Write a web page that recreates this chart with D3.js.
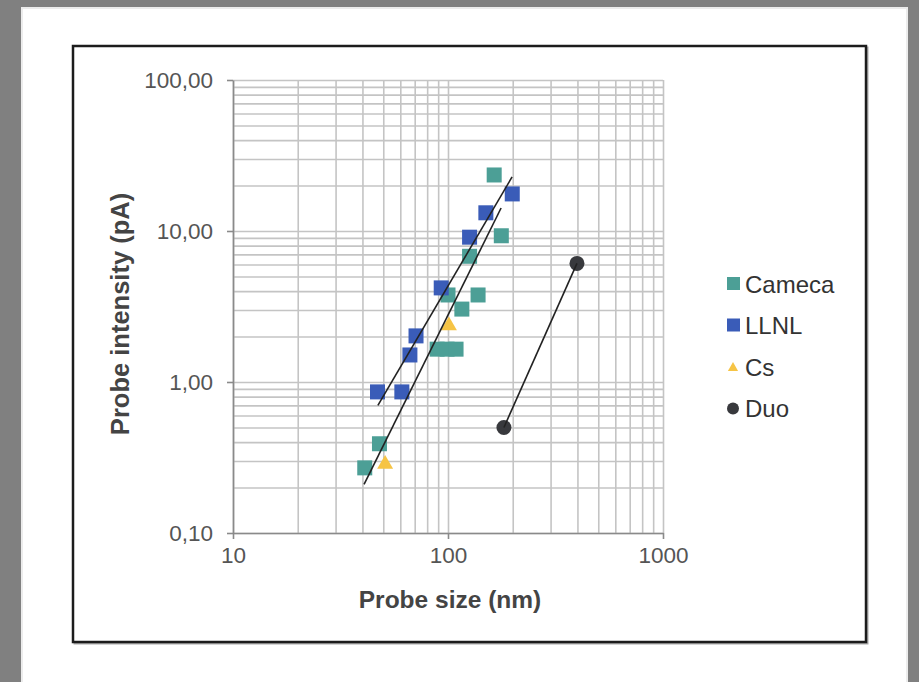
<!DOCTYPE html>
<html>
<head>
<meta charset="utf-8">
<script src="https://cdn.jsdelivr.net/npm/d3@7"></script>
<style>
	body { margin: 0; background: #808080; }
	svg { display: block; }
	text { font-family: "Liberation Sans", Arial, sans-serif; }
</style>
</head>
<body>
<svg id="chart"></svg>
<script>
// DATA

var camecaX = [41, 48, 89, 99, 109, 100, 116, 138, 126, 177, 164];
var camecaY = [0.27, 0.39, 1.65, 1.65, 1.65, 3.77, 3.04, 3.77, 6.8, 9.3, 23.5];

var llnlX = [47, 61, 66.5, 71, 93, 126, 150, 199];
var llnlY = [0.86, 0.86, 1.51, 2.02, 4.2, 9.1, 13.2, 17.6];

var csX = [51, 101];
var csY = [0.29, 2.4];

var duoX = [182, 398];
var duoY = [0.5, 6.1];

// trend line ends (x, y)
var camecaTrend = [[40.7, 0.21], [176.6, 14.2]];
var llnlTrend = [[47.2, 0.70], [198.6, 22.8]];
var duoTrend = [[182, 0.5], [398, 6.1]];

var xTicks = [10, 100, 1000];
var xTickLabels = ["10", "100", "1000"];
var yTicks = [0.1, 1, 10, 100];
var yTickLabels = ["0,10", "1,00", "10,00", "100,00"];

var seriesNames = ["Cameca", "LLNL", "Cs", "Duo"];

// DIMENSIONS

var width = 919,
	height = 682,
	plotLeft = 233,
	plotRight = 663,
	plotTop = 80,
	plotBottom = 533,
	sq = 15;

var colors = {
	Cameca: '#4c9f96',
	LLNL: '#3a5cb8',
	Cs: '#f6c445',
	Duo: '#38393d'
};

var svg = d3.select("#chart")
	.attr('width', width)
	.attr('height', height);

// page + frame
svg.append('rect')
	.attr('x', 22).attr('y', 8)
	.attr('width', 885).attr('height', 680)
	.style('fill', '#fff')
	.style('stroke', '#ececec')
	.style('stroke-width', 2);

svg.append('rect')
	.attr('x', 74.5).attr('y', 47.5)
	.attr('width', 793).attr('height', 596)
	.style('fill', 'none')
	.style('stroke', '#aaa')
	.style('stroke-width', 2);

svg.append('rect')
	.attr('x', 73).attr('y', 46)
	.attr('width', 793).attr('height', 596)
	.style('fill', '#fff')
	.style('stroke', '#1c1c1c')
	.style('stroke-width', 2.5);

// SCALES

var xScale = d3.scaleLog()
	.domain([10, 1000])
	.range([plotLeft, plotRight]);

var yScale = d3.scaleLog()
	.domain([0.1, 100])
	.range([plotBottom, plotTop]);

// grid (every 1..9 of each decade)
var xGridVals = xScale.ticks(),
	yGridVals = yScale.ticks();

svg.append('g')
	.attr('class', 'grid')
	.attr('transform', 'translate(0,' + plotBottom + ')')
	.call(d3.axisBottom(xScale)
		.tickValues(xGridVals)
		.tickSize(-(plotBottom - plotTop))
		.tickFormat(''));

svg.append('g')
	.attr('class', 'grid')
	.attr('transform', 'translate(' + plotLeft + ',0)')
	.call(d3.axisLeft(yScale)
		.tickValues(yGridVals)
		.tickSize(-(plotRight - plotLeft))
		.tickFormat(''));

svg.selectAll('.grid .domain').remove();
svg.selectAll('.grid line')
	.style('stroke', '#c4c4c4')
	.style('stroke-width', 1.6);

// axes
var xAxis = svg.append('g')
	.attr('transform', 'translate(0,' + plotBottom + ')')
	.call(d3.axisBottom(xScale)
		.tickValues(xTicks)
		.tickSize(6)
		.tickSizeOuter(0)
		.tickPadding(8)
		.tickFormat(function(d, i) { return xTickLabels[i]; }));

var yAxis = svg.append('g')
	.attr('transform', 'translate(' + plotLeft + ',0)')
	.call(d3.axisLeft(yScale)
		.tickValues(yTicks)
		.tickSize(6)
		.tickSizeOuter(0)
		.tickPadding(14)
		.tickFormat(function(d, i) { return yTickLabels[i]; }));

[xAxis, yAxis].forEach(function(ax) {
	ax.selectAll('.domain, line')
		.style('stroke', '#8a8a8a')
		.style('stroke-width', 1.6);
	ax.selectAll('text')
		.style('font-size', '22.5px')
		.style('fill', '#555');
});

// axis titles
svg.append('text')
	.attr('x', (plotLeft + plotRight) / 2 + 2)
	.attr('y', 608)
	.attr('text-anchor', 'middle')
	.style('font-size', '24.5px')
	.style('font-weight', 'bold')
	.style('fill', '#444')
	.text('Probe size (nm)');

svg.append('text')
	.attr('transform', 'translate(129,314) rotate(-90)')
	.attr('text-anchor', 'middle')
	.style('font-size', '25.5px')
	.style('font-weight', 'bold')
	.style('fill', '#444')
	.text('Probe intensity (pA)');

// MARKERS

function squares(xs, ys, color) {
	svg.append('g')
		.selectAll('rect').data(xs)
		.enter().append('rect')
		.attr('x', function(d) { return xScale(d) - sq / 2; })
		.attr('y', function(d, i) { return yScale(ys[i]) - sq / 2; })
		.attr('width', sq)
		.attr('height', sq)
		.style('fill', color);
}

squares(camecaX, camecaY, colors.Cameca);
squares(llnlX, llnlY, colors.LLNL);

var tri = d3.symbol().type(d3.symbolTriangle).size(110);

svg.append('g')
	.selectAll('path').data(csX)
	.enter().append('path')
	.attr('d', tri)
	.attr('transform', function(d, i) {
		return 'translate(' + xScale(d) + ',' + (yScale(csY[i]) + 1) + ')';
	})
	.style('fill', colors.Cs);

svg.append('g')
	.selectAll('circle').data(duoX)
	.enter().append('circle')
	.attr('cx', function(d) { return xScale(d); })
	.attr('cy', function(d, i) { return yScale(duoY[i]); })
	.attr('r', 7.5)
	.style('fill', colors.Duo);

// trend lines
var line = d3.line()
	.x(function(d) { return xScale(d[0]); })
	.y(function(d) { return yScale(d[1]); });

[camecaTrend, llnlTrend, duoTrend].forEach(function(t) {
	svg.append('path')
		.attr('d', line(t))
		.style('fill', 'none')
		.style('stroke', '#222')
		.style('stroke-width', 1.6);
});

// LEGEND

var legend = svg.append('g')
	.attr('transform', 'translate(734,284)')
	.selectAll('g').data(seriesNames)
	.enter().append('g')
	.attr('transform', function(d, i) { return 'translate(0,' + (i * 41.5) + ')'; });

legend.each(function(d) {
	var g = d3.select(this);
	if (d === 'Cameca' || d === 'LLNL') {
		g.append('rect')
			.attr('x', -7).attr('y', -7)
			.attr('width', 13).attr('height', 13)
			.style('fill', colors[d]);
	} else if (d === 'Cs') {
		g.append('path')
			.attr('d', d3.symbol().type(d3.symbolTriangle).size(45))
			.attr('transform', 'translate(-1,1)')
			.style('fill', colors[d]);
	} else {
		g.append('circle')
			.attr('cx', -1).attr('r', 6)
			.style('fill', colors[d]);
	}
	g.append('text')
		.attr('x', 11)
		.attr('dy', '0.36em')
		.style('font-size', '24px')
		.style('fill', '#333')
		.text(d);
});
</script>
</body>
</html>
